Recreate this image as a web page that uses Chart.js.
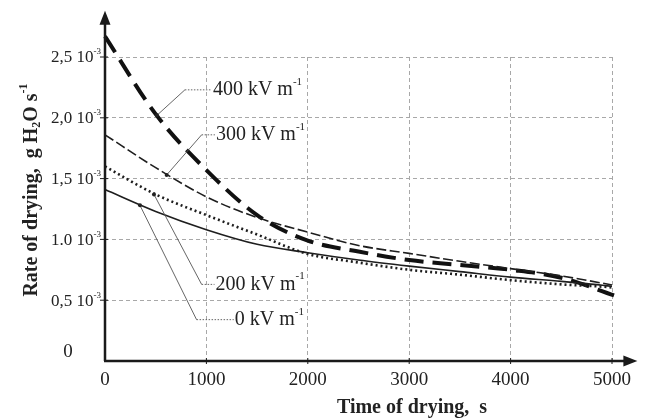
<!DOCTYPE html>
<html>
<head>
<meta charset="utf-8">
<script src="https://cdn.jsdelivr.net/npm/chart.js@4.4.1/dist/chart.umd.min.js"></script>
<style>
  html, body { margin: 0; padding: 0; background: #fff; }
  canvas { display: block; }
</style>
</head>
<body>
<canvas id="dryChart" width="648" height="420"></canvas>
<script>
// --- data (rate in 10^-3 g H2O/s, time in s) ---
var timeS    = [0, 500, 1000, 1500, 2000, 2500, 3000, 3500, 4000, 4500, 5000, 5150];
var rate0    = [1.41, 1.23, 1.08, 0.96, 0.89, 0.83, 0.78, 0.735, 0.69, 0.655, 0.615, 0.60];
var rate200  = [1.60, 1.37, 1.20, 1.04, 0.88, 0.81, 0.75, 0.71, 0.665, 0.63, 0.605, 0.59];
var rate300  = [1.86, 1.59, 1.35, 1.18, 1.06, 0.95, 0.885, 0.82, 0.76, 0.70, 0.625, 0.60];
var time400  = [0, 500, 1000, 1500, 2000, 2500, 3000, 3500, 4000, 4500, 5020];
var rate400  = [2.67, 2.03, 1.57, 1.20, 0.99, 0.90, 0.83, 0.79, 0.75, 0.685, 0.54];

var xTicks     = [0, 1000, 2000, 3000, 4000, 5000];
var yTickVals  = [0.5, 1.0, 1.5, 2.0, 2.5];
var yTickText  = ['0,5', '1.0', '1,5', '2,0', '2,5'];

// field strength labels and where their leader lines touch the curves (data units)
var fieldNames   = ['400', '300', '200', '0'];
var leaderOnT    = [512, 608, 483, 345];
var leaderOnV    = [2.02, 1.53, 1.37, 1.28];
var leaderBendT  = [788, 953, 953, 903];
var leaderBendV  = [2.23, 1.86, 0.63, 0.34];
var leaderTextT  = [1064, 1094, 1090, 1280];

function toPoints(xs, ys) {
    var pts = [];
    for (var i = 0; i < xs.length; i++) pts.push({ x: xs[i], y: ys[i] });
    return pts;
}

// draw a run of text pieces (normal / sub / sup) starting at x
function richWidth(ctx, parts) {
    var w = 0;
    for (var i = 0; i < parts.length; i++) {
        ctx.font = parts[i].font;
        w += ctx.measureText(parts[i].t).width;
    }
    return w;
}
function drawRich(ctx, parts, x, y) {
    for (var i = 0; i < parts.length; i++) {
        ctx.font = parts[i].font;
        ctx.fillText(parts[i].t, x, y + (parts[i].dy || 0));
        x += ctx.measureText(parts[i].t).width;
    }
}

var SERIF = '"Liberation Serif", "Times New Roman", serif';

var decorPlugin = {
    id: 'decor',
    afterDatasetsDraw: function (chart) {
        var ctx = chart.ctx;
        var xs = chart.scales.x, ys = chart.scales.y;
        var x0 = xs.getPixelForValue(0), y0 = ys.getPixelForValue(0);
        var xEnd = xs.getPixelForValue(5250), yEnd = ys.getPixelForValue(2.88);
        ctx.save();

        // axes with arrows
        ctx.strokeStyle = '#1a1a1a';
        ctx.fillStyle = '#1a1a1a';
        ctx.lineWidth = 2.5;
        ctx.setLineDash([]);
        ctx.beginPath();
        ctx.moveTo(x0, y0); ctx.lineTo(x0, yEnd + 10);
        ctx.moveTo(x0 - 1, y0); ctx.lineTo(xEnd - 10, y0);
        ctx.stroke();
        ctx.beginPath();
        ctx.moveTo(x0, yEnd); ctx.lineTo(x0 - 5.5, yEnd + 14); ctx.lineTo(x0 + 5.5, yEnd + 14); ctx.closePath();
        ctx.fill();
        ctx.beginPath();
        ctx.moveTo(xEnd, y0); ctx.lineTo(xEnd - 14, y0 - 5.5); ctx.lineTo(xEnd - 14, y0 + 5.5); ctx.closePath();
        ctx.fill();

        // tick marks
        ctx.lineWidth = 1;
        ctx.beginPath();
        for (var i = 1; i < xTicks.length; i++) {
            var px = xs.getPixelForValue(xTicks[i]);
            ctx.moveTo(px, y0 - 3); ctx.lineTo(px, y0 + 3);
        }
        for (var j = 0; j < yTickVals.length; j++) {
            var py = ys.getPixelForValue(yTickVals[j]);
            ctx.moveTo(x0 - 5, py); ctx.lineTo(x0 + 3, py);
        }
        ctx.stroke();

        // tick labels
        ctx.fillStyle = '#222';
        ctx.textBaseline = 'middle';
        ctx.textAlign = 'center';
        ctx.font = '19px ' + SERIF;
        for (var k = 0; k < xTicks.length; k++) {
            ctx.fillText(String(xTicks[k]), xs.getPixelForValue(xTicks[k]), y0 + 19);
        }
        ctx.textAlign = 'left';
        for (var m = 0; m < yTickVals.length; m++) {
            var parts = [
                { t: yTickText[m] + ' ', font: '17px ' + SERIF },
                { t: '10', font: '17px ' + SERIF },
                { t: '-3', font: '9px ' + SERIF, dy: -6 }
            ];
            var w = richWidth(ctx, parts);
            drawRich(ctx, parts, x0 - 4 - w, ys.getPixelForValue(yTickVals[m]) + 1);
        }
        ctx.textAlign = 'center';
        ctx.font = '19px ' + SERIF;
        ctx.fillText('0', x0 - 37, y0 - 9);

        // axis titles
        ctx.textAlign = 'left';
        var xTitle = [{ t: 'Time of drying,  s', font: 'bold 20px ' + SERIF }];
        drawRich(ctx, xTitle, 412 - richWidth(ctx, xTitle) / 2, 408);

        var yTitle = [
            { t: 'Rate of drying,  g H', font: 'bold 20px ' + SERIF },
            { t: '2', font: 'bold 12px ' + SERIF, dy: 5 },
            { t: 'O s', font: 'bold 20px ' + SERIF },
            { t: '-1', font: 'bold 12px ' + SERIF, dy: -8 }
        ];
        ctx.translate(32, 190);
        ctx.rotate(-Math.PI / 2);
        drawRich(ctx, yTitle, -richWidth(ctx, yTitle) / 2, 0);
        ctx.setTransform(1, 0, 0, 1, 0, 0);

        // leader lines and field strength labels
        for (var n = 0; n < fieldNames.length; n++) {
            var ax = xs.getPixelForValue(leaderOnT[n]), ay = ys.getPixelForValue(leaderOnV[n]);
            var bx = xs.getPixelForValue(leaderBendT[n]), by = ys.getPixelForValue(leaderBendV[n]);
            var tx = xs.getPixelForValue(leaderTextT[n]);
            ctx.strokeStyle = '#555';
            ctx.lineWidth = 0.9;
            ctx.setLineDash([]);
            ctx.beginPath(); ctx.moveTo(ax, ay); ctx.lineTo(bx, by); ctx.stroke();
            ctx.setLineDash([1.5, 1.5]);
            ctx.beginPath(); ctx.moveTo(bx, by); ctx.lineTo(tx - 1, by); ctx.stroke();
            ctx.setLineDash([]);
            ctx.fillStyle = '#222';
            ctx.beginPath(); ctx.arc(ax, ay, 2, 0, Math.PI * 2); ctx.fill();
            drawRich(ctx, [
                { t: fieldNames[n] + ' kV m', font: '20px ' + SERIF },
                { t: '-1', font: '11px ' + SERIF, dy: -8 }
            ], tx, by);
        }
        ctx.restore();
    }
};

var ctx = document.getElementById('dryChart');
var dryChart = new Chart(ctx, {
    type: 'line',
    data: {
        datasets: [
            { label: '0 kV m-1', data: toPoints(timeS, rate0), borderColor: '#1e1e1e', borderWidth: 1.6, clip: false },
            { label: '200 kV m-1', data: toPoints(timeS, rate200), borderColor: '#1e1e1e', borderWidth: 2.6,
              borderDash: [2, 3], borderCapStyle: 'butt', clip: false },
            { label: '300 kV m-1', data: toPoints(timeS, rate300), borderColor: '#1e1e1e', borderWidth: 1.6,
              borderDash: [10, 3.5], clip: false },
            { label: '400 kV m-1', data: toPoints(time400, rate400), borderColor: '#111', borderWidth: 4,
              borderDash: [19, 9], clip: false }
        ]
    },
    options: {
        responsive: false,
        animation: false,
        events: [],
        layout: { padding: { left: 105, top: 57, right: 36, bottom: 59 } },
        elements: {
            point: { radius: 0 },
            line: { cubicInterpolationMode: 'monotone', fill: false }
        },
        plugins: { legend: { display: false }, tooltip: { enabled: false } },
        scales: {
            x: {
                type: 'linear', min: 0, max: 5000,
                afterBuildTicks: function (scale) { scale.ticks = xTicks.map(function (v) { return { value: v }; }); },
                afterFit: function (scale) { scale.height = 0; },
                ticks: { display: false },
                grid: { color: '#a8a8a8', lineWidth: 1, drawTicks: false },
                border: { display: false, dash: [4, 3] }
            },
            y: {
                type: 'linear', min: 0, max: 2.5,
                afterBuildTicks: function (scale) { scale.ticks = [0].concat(yTickVals).map(function (v) { return { value: v }; }); },
                afterFit: function (scale) { scale.width = 0; },
                ticks: { display: false },
                grid: { color: '#a8a8a8', lineWidth: 1, drawTicks: false },
                border: { display: false, dash: [4, 3] }
            }
        }
    },
    plugins: [decorPlugin]
});
</script>
</body>
</html>
